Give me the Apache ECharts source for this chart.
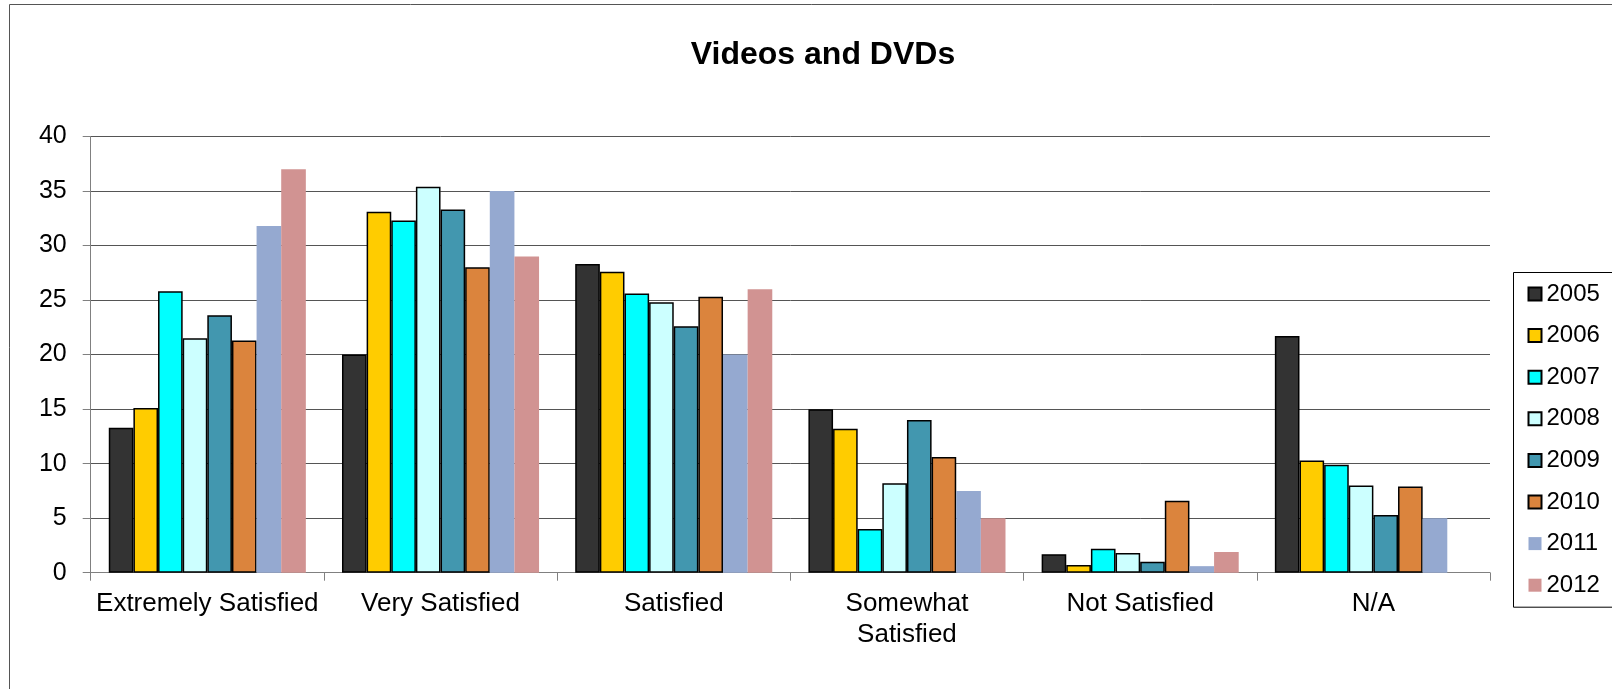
<!DOCTYPE html>
<html>
<head>
<meta charset="utf-8">
<script src="https://cdn.jsdelivr.net/npm/echarts@6/dist/echarts.min.js"></script>
<style>
html,body{margin:0;padding:0;background:#fff;}
#chart{width:1612px;height:689px;}
</style>
</head>
<body>
<div id="chart"></div>
<script>
const categories = ['Extremely Satisfied', 'Very Satisfied', 'Satisfied', 'Somewhat Satisfied', 'Not Satisfied', 'N/A'];
const years = ['2005', '2006', '2007', '2008', '2009', '2010', '2011', '2012'];
const v2005 = [13.3, 20.0, 28.3, 15.0, 1.7, 21.7];
const v2006 = [15.1, 33.1, 27.6, 13.2, 0.7, 10.3];
const v2007 = [25.8, 32.3, 25.6, 4.0, 2.2, 9.9];
const v2008 = [21.5, 35.4, 24.8, 8.2, 1.8, 8.0];
const v2009 = [23.6, 33.3, 22.6, 14.0, 1.0, 5.3];
const v2010 = [21.3, 28.0, 25.3, 10.6, 6.6, 7.9];
const v2011 = [31.8, 35.0, 20.0, 7.5, 0.6, 5.0];
const v2012 = [37.0, 29.0, 26.0, 5.0, 1.9, 0];
const yTicks = [0, 5, 10, 15, 20, 25, 30, 35, 40];

const seriesValues = [v2005, v2006, v2007, v2008, v2009, v2010, v2011, v2012];
const colors = ['#333333', '#FFCC00', '#00FFFF', '#CCFFFF', '#4297AF', '#DB843D', '#95A9D0', '#D19392'];
const bordered = [true, true, true, true, true, true, false, false];
const FONT = '"Liberation Sans", Arial, sans-serif';

const chart = echarts.init(document.getElementById('chart'), null, {renderer: 'canvas'});
chart.setOption({
  animation: false,
  backgroundColor: '#ffffff',
  graphic: [{
    type: 'rect', silent: true, z: -10,
    shape: {x: 9.5, y: 4.5, width: 1660, height: 760},
    style: {fill: 'none', stroke: '#555', lineWidth: 1}
  }],
  title: {
    text: 'Videos and DVDs',
    left: 818, top: 34, textAlign: 'center',
    textStyle: {fontFamily: FONT, fontSize: 32, fontWeight: 'bold', color: '#000', lineHeight: 32}
  },
  legend: {
    orient: 'vertical',
    left: 1513.5, top: 272.5,
    padding: [9.5, 30, 10, 14],
    itemGap: 17.6,
    itemWidth: 13, itemHeight: 13,
    icon: 'rect',
    borderColor: '#000', borderWidth: 1,
    textStyle: {fontFamily: FONT, fontSize: 24, color: '#000', lineHeight: 24},
    data: years
  },
  grid: {left: 90.7, right: 122, top: 136.5, bottom: 116.3, containLabel: false},
  xAxis: {
    type: 'category',
    data: categories,
    axisLine: {show: true, lineStyle: {color: '#808080', width: 1}},
    axisTick: {show: true, length: 8, alignWithLabel: false, lineStyle: {color: '#808080'}},
    axisLabel: {
      fontFamily: FONT, fontSize: 26, color: '#000', margin: 16, lineHeight: 31,
      interval: 0,
      formatter: v => v === 'Somewhat Satisfied' ? 'Somewhat\nSatisfied' : v
    }
  },
  yAxis: {
    type: 'value',
    min: yTicks[0], max: yTicks[yTicks.length - 1], interval: 5,
    axisLine: {show: true, lineStyle: {color: '#808080', width: 1}},
    axisTick: {show: true, length: 8, lineStyle: {color: '#808080'}},
    axisLabel: {fontFamily: FONT, fontSize: 25, color: '#000', margin: 24},
    splitLine: {show: true, lineStyle: {color: '#555', width: 1}}
  },
  series: years.map((y, i) => ({
    name: y,
    type: 'bar',
    data: seriesValues[i],
    barGap: '0%',
    barCategoryGap: '15.5%',
    itemStyle: {
      color: colors[i],
      borderColor: bordered[i] ? '#000' : colors[i],
      borderWidth: bordered[i] ? 1.5 : 0
    }
  }))
});
</script>
</body>
</html>
